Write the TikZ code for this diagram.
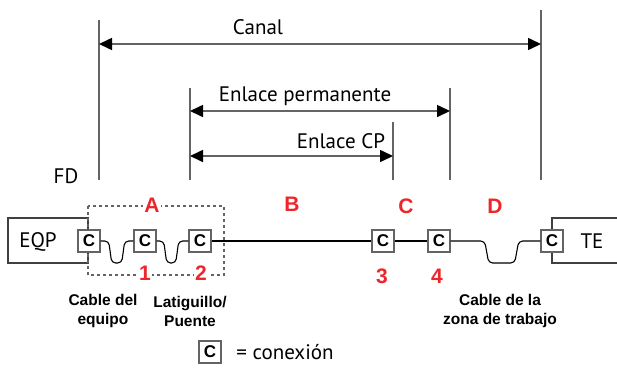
\documentclass[tikz,border=0pt]{standalone}
\usepackage{fontspec}
\setmainfont{Liberation Sans}
\newfontfamily\lightsans{PT Sans}
\usetikzlibrary{arrows.meta}
\definecolor{markred}{RGB}{236,38,42}
\definecolor{dimgray}{RGB}{100,100,100}

\begin{document}
\begin{tikzpicture}[
  x=1pt,y=-1pt,
  every node/.style={align=center,inner sep=0pt},
  conn/.style={draw=dimgray,line width=1.4pt,fill=white,minimum size=22pt,
    font=\bfseries\fontsize{17}{17}\selectfont},
  device/.style={draw=black!75,line width=1.2pt},
  cable/.style={line width=1.1pt,rounded corners=4pt},
  vline/.style={draw=dimgray,line width=1.6pt},
  to/.style={<->,>={Triangle[length=13pt,width=12pt,color=black]},draw=dimgray,line width=1.6pt},
  txt/.style={font=\lightsans\fontsize{21}{24}\selectfont},
  tag/.style={text=markred,fill=white,inner sep=1pt,font=\bfseries\fontsize{21}{21}\selectfont},
  note/.style={font=\bfseries\fontsize{15.5}{19}\selectfont}]

  \useasboundingbox (0,0) rectangle (617,370);

  % Measurement planes
  \coordinate (fdT) at (99,20);   \coordinate (fdB) at (99,180);
  \coordinate (plT) at (190,88);  \coordinate (plB) at (190,180);
  \coordinate (cpT) at (393,122); \coordinate (cpB) at (393,180);
  \coordinate (prT) at (450,88);  \coordinate (prB) at (450,180);
  \coordinate (teT) at (541,10);  \coordinate (teB) at (541,180);
  \draw[vline] (fdT) -- (fdB);
  \draw[vline] (plT) -- (plB);
  \draw[vline] (cpT) -- (cpB);
  \draw[vline] (prT) -- (prB);
  \draw[vline] (teT) -- (teB);

  \coordinate (canalL) at (99,44);   \coordinate (canalR) at (541,44);
  \coordinate (permL) at (190,111);  \coordinate (permR) at (450,111);
  \coordinate (cpL) at (190,156);    \coordinate (cpR) at (393,156);
  \draw[to] (canalL) -- (canalR);
  \draw[to] (permL) -- (permR);
  \draw[to] (cpL) -- (cpR);

  \node[txt] (canal) at (258,27) {Canal};
  \node[txt] (perm) at (305,96) {Enlace permanente};
  \node[txt] (cp) at (341,141) {Enlace CP};
  \node[txt] (fd) at (66,176) {FD};

  % Equipment and terminal
  \draw[device] (8,218) rectangle (88,263);
  \node[txt] (eqp) at (38,242) {EQP};
  \draw[device] (617,218) -| (552,263) -- (617,263);
  \node[txt] (te) at (592,241) {TE};

  % Patch area
  \draw[dimgray,dashed,line width=1.1pt] (88,206) rectangle (224,275);

  % Connections
  \node[conn] (c1) at (89,241) {C};
  \node[conn] (c2) at (145,241) {C};
  \node[conn] (c3) at (200,241) {C};
  \node[conn] (c4) at (383,241) {C};
  \node[conn] (c5) at (439,241) {C};
  \node[conn] (c6) at (552,241) {C};

  \draw[cable] (c1.east) -- ++(8,0) -- ++(3,22) -- ++(10,0) -- ++(3,-22) -- (c2.west);
  \draw[cable] (c2.east) -- ++(7,0) -- ++(3,22) -- ++(9,0) -- ++(3,-22) -- (c3.west);
  \draw[cable] (c3.east) -- (c4.west);
  \draw[cable] (c4.east) -- (c5.west);
  \draw[cable] (c5.east) -- ++(34,0) -- ++(4,22) -- ++(26,0) -- ++(4,-22) -- (c6.west);

  % Section and point labels
  \node[tag] (tA) at (152,205) {A};
  \node[tag] (tB) at (292,204) {B};
  \node[tag] (tC) at (406,206) {C};
  \node[tag] (tD) at (495,206) {D};
  \node[tag] (t1) at (145,273) {1};
  \node[tag] (t2) at (201,273) {2};
  \node[tag] (t3) at (382,276) {3};
  \node[tag] (t4) at (437,276) {4};

  \node[note] (eqcable) at (103,311) {Cable del\\equipo};
  \node[note] (patch) at (190,311) {Latiguillo/\\Puente};
  \node[note] (wacable) at (500,311) {Cable de la\\zona de trabajo};

  % Legend
  \node[conn] (lc) at (210,352) {C};
  \node[txt] (ltxt) at (285,352) {= conexión};

\end{tikzpicture}
\end{document}
